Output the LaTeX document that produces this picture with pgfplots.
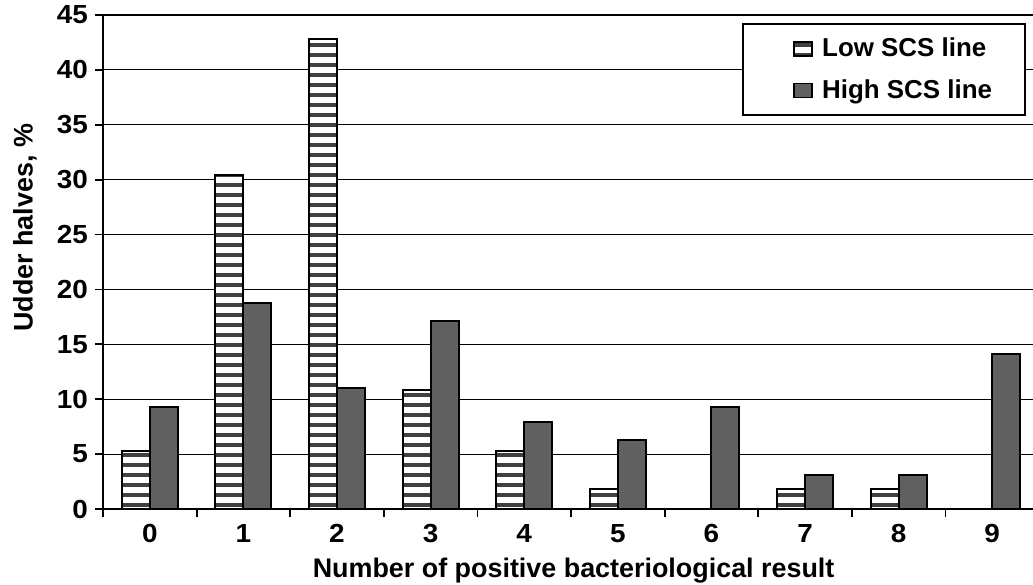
\documentclass[border=0pt]{standalone}
\usepackage{pgfplots}
\pgfplotsset{compat=1.18}
\usepackage{fontspec}
\setmainfont{Liberation Sans}
\usetikzlibrary{patterns.meta}
\definecolor{barfill}{HTML}{606060}
\definecolor{stripe}{HTML}{404040}
\newcommand{\tl}[1]{\scalebox{1.12}[1.05]{\fontsize{12.5}{14}\selectfont\bfseries\pgfmathprintnumber[assume math mode=true]{#1}}}

\begin{document}
\begin{tikzpicture}
\begin{axis}[
    at={(0,0)}, anchor=south west,
    scale only axis,
    width=465bp, height=247bp,
    xmin=-0.5, xmax=9.436,
    ymin=0, ymax=45,
    axis lines=left,
    axis line style={-, line width=1bp, black},
    ytick={0,5,...,45},
    yticklabel={\tl{\tick}},
    ymajorgrids,
    grid style={black, line width=0.6bp},
    xtick={0,...,9},
    xticklabel={\tl{\tick}},
    major x tick style={draw=none},
    minor xtick={-0.5,0.5,...,8.5},
    tick align=outside,
    major tick length=4bp, minor tick length=4bp,
    tick style={black, line width=0.9bp},
    xlabel={Number of positive bacteriological result},
    ylabel={Udder halves, \%},
    xlabel style={font=\bfseries\fontsize{13.5}{16}\selectfont, at={(axis description cs:0.506,-0.125)}, anchor=center},
    ylabel style={font=\bfseries\fontsize{13.5}{16}\selectfont, at={(axis description cs:-0.084,0.569)}, anchor=center},
    legend style={at={(1,1)}, anchor=north east, xshift=-3.5bp, yshift=-4bp,
        draw=black, line width=1bp, fill=white,
        font=\bfseries\fontsize{13}{15}\selectfont,
        inner xsep=14.5bp, inner ysep=5bp, row sep=6bp},
    legend cell align=left,
    legend image code/.code={\path (0bp,0bp) (22bp,0bp); \draw[#1, line width=0.8bp] (10.5bp,-3.5bp) rectangle (19.5bp,3.5bp);},
]
\addplot[ybar, bar width=14bp, bar shift=-7bp, draw=black, line width=1bp,
    fill=white, postaction={pattern={Lines[angle=0,distance=5bp,line width=2bp]}, pattern color=stripe}]
    coordinates {(0,5.3) (1,30.4) (2,42.8) (3,10.8) (4,5.3) (5,1.8) (6,0) (7,1.8) (8,1.8) (9,0)};
\addlegendentry{Low SCS line}
\addplot[ybar, bar width=14bp, bar shift=7bp, draw=black, line width=1bp, fill=barfill]
    coordinates {(0,9.3) (1,18.8) (2,11.0) (3,17.1) (4,7.9) (5,6.3) (6,9.3) (7,3.1) (8,3.1) (9,14.1)};
\addlegendentry{High SCS line}
\end{axis}
\pgfresetboundingbox
\path (-51.5bp,-38bp) rectangle (465bp,254.5bp);
\end{tikzpicture}
\end{document}
